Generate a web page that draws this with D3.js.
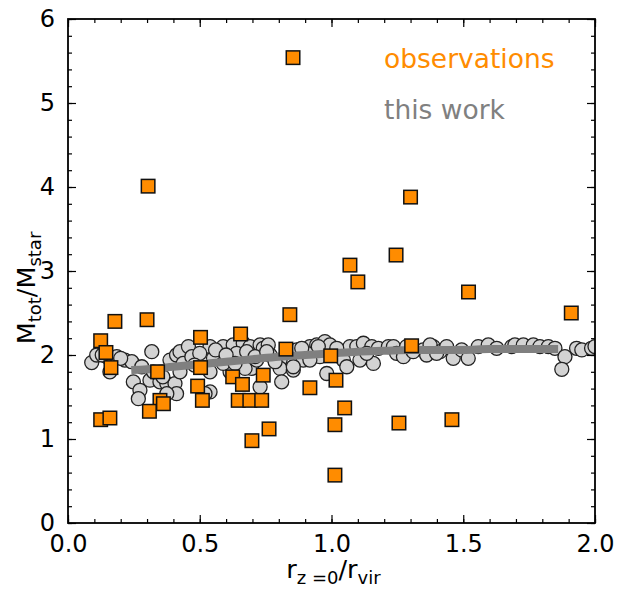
<!DOCTYPE html>
<html><head><meta charset="utf-8">
<script src="https://cdn.jsdelivr.net/npm/d3@7"></script>
<style>body{margin:0;background:#fff}svg{display:block}text{font-family:"DejaVu Sans",sans-serif}</style>
</head><body><svg id="c" width="618" height="592"></svg>
<script>
// ---- data ----
const xTicks = [0.0, 0.5, 1.0, 1.5, 2.0];
const yTicks = [0, 1, 2, 3, 4, 5, 6];
const legendLabels = ["observations", "this work"];

// simulated satellites ("this work"): [r/rvir, Mtot/Mstar]
const simX = [0.09,0.109,0.147,0.185,0.216,0.242,0.159,0.28,0.318,0.248,0.273,0.267,0.311,0.349,0.375,0.406,0.412,0.375,
  0.387,0.412,0.425,0.457,0.437,0.425,0.539,0.552,0.539,0.539,0.52,0.589,0.627,0.665,0.691,0.729,0.615,0.697,0.729,0.589,
  0.640,0.716,0.324,0.741,0.767,0.76,0.805,0.805,0.855,0.868,0.893,0.918,0.944,0.956,0.975,0.994,0.982,1.045,1.058,1.07,
  1.096,1.108,1.121,1.153,1.159,1.178,1.216,1.235,1.247,1.273,1.285,1.348,1.361,1.386,1.412,1.437,1.462,1.134,1.02,0.906,
  1.31,1.374,1.399,1.494,1.519,1.557,1.595,1.627,1.684,1.696,1.728,1.766,1.791,1.823,1.848,1.886,1.874,1.93,1.95,1.987,2.0,
  0.811,0.64,0.678,0.71,0.754,0.786,0.855,0.887,0.918,0.95,0.672,0.634,0.47,0.5,0.56,0.6,0.2,0.13,0.36,0.48];
const simY = [1.91,2.0,1.98,1.98,1.94,1.92,1.80,1.86,2.04,1.68,1.58,1.48,1.70,1.68,1.66,1.66,1.54,1.54,
  1.94,2.0,2.04,2.10,1.90,1.80,2.10,1.96,1.80,1.56,1.54,2.10,2.12,2.14,2.10,2.12,1.80,1.84,1.62,1.90,
  1.94,1.94,1.80,2.08,2.0,2.12,1.94,1.84,1.82,2.06,1.94,2.10,2.12,1.98,2.16,2.12,1.78,1.94,1.86,2.10,
  2.10,1.94,2.14,2.10,1.90,2.08,2.10,2.10,2.02,1.98,2.10,2.06,2.0,2.10,2.04,2.10,1.96,2.02,2.08,2.02,
  2.04,2.12,2.02,2.06,1.96,2.10,2.12,2.08,2.10,2.12,2.12,2.12,2.10,2.10,2.08,1.98,1.83,2.08,2.06,2.08,2.10,
  1.68,2.02,2.04,1.98,2.04,1.92,1.86,2.08,1.94,2.10,1.84,1.90,1.98,2.02,2.06,2.0,1.96,2.0,1.74,1.88];

// median trend ("this work")
const trendX = [0.24,0.3,0.4,0.5,0.6,0.7,0.8,0.9,1.0,1.1,1.2,1.3,1.4,1.5,1.6,1.7,1.86];
const trendY = [1.82,1.83,1.86,1.89,1.92,1.95,1.98,2.0,2.02,2.04,2.05,2.06,2.06,2.06,2.07,2.07,2.07];

// observations
const obsX = [0.854,0.304,1.30,1.07,1.245,1.10,1.52,1.91,0.178,0.30,0.842,0.124,0.655,0.503,1.304,0.144,0.827,0.997,
  0.163,0.503,0.34,0.625,0.741,0.662,0.492,0.918,1.017,0.349,0.362,0.309,0.51,0.646,0.69,0.735,1.05,0.124,0.159,
  1.256,1.457,1.013,0.763,0.698,1.013];
const obsY = [5.54,4.01,3.88,3.07,3.19,2.87,2.75,2.50,2.40,2.42,2.48,2.17,2.25,2.21,2.11,2.03,2.07,1.99,
  1.85,1.85,1.80,1.74,1.76,1.65,1.63,1.61,1.70,1.46,1.42,1.33,1.46,1.46,1.46,1.46,1.37,1.23,1.25,
  1.19,1.23,1.17,1.12,0.98,0.57];

// ---- chart ----
const svg = d3.select("#c");
const L = 68, R = 595, T = 19, B = 523;
const x = d3.scaleLinear().domain([0, 2]).range([L, R]);
const y = d3.scaleLinear().domain([0, 6]).range([B, T]);

const plot = svg.append("g");
svg.append("clipPath").attr("id","pc").append("rect")
  .attr("x", L).attr("y", T).attr("width", R-L).attr("height", B-T);
const inner = plot.append("g").attr("clip-path","url(#pc)");

// circles
inner.selectAll("circle.sim").data(d3.range(simX.length)).join("circle")
  .attr("cx", i => x(simX[i])).attr("cy", i => y(simY[i])).attr("r", 7)
  .attr("fill", "#d3d3d3").attr("stroke", "#222").attr("stroke-width", 1.3);

// trend
inner.append("path").datum(d3.range(trendX.length))
  .attr("d", d3.line().x(i => x(trendX[i])).y(i => y(trendY[i])).curve(d3.curveMonotoneX))
  .attr("fill","none").attr("stroke","#808080").attr("stroke-width",8);

// squares
const s = 13.5;
inner.selectAll("rect.obs").data(d3.range(obsX.length)).join("rect")
  .attr("x", i => x(obsX[i]) - s/2).attr("y", i => y(obsY[i]) - s/2)
  .attr("width", s).attr("height", s)
  .attr("fill", "#ff8c00").attr("stroke", "#111").attr("stroke-width", 1.5);

// axes (ticks inward on all sides)
const fs = 24;
function styleAxis(g){ g.select(".domain").remove(); g.selectAll("line").attr("stroke","#000").attr("stroke-width",1.2); }
const minorX = d3.range(0, 2.0001, 0.1), minorY = d3.range(0, 6.0001, 0.2);

const gxb = svg.append("g").attr("transform",`translate(0,${B})`)
  .call(d3.axisBottom(x).tickValues(xTicks).tickFormat(d3.format(".1f")).tickSizeInner(-8).tickPadding(12));
styleAxis(gxb); gxb.selectAll("text").attr("font-size",fs).attr("fill","#000").attr("font-family","DejaVu Sans");
const gxbm = svg.append("g").attr("transform",`translate(0,${B})`)
  .call(d3.axisBottom(x).tickValues(minorX).tickFormat("").tickSizeInner(-4)); styleAxis(gxbm);
const gxt = svg.append("g").attr("transform",`translate(0,${T})`)
  .call(d3.axisTop(x).tickValues(xTicks).tickFormat("").tickSizeInner(-8)); styleAxis(gxt);
const gxtm = svg.append("g").attr("transform",`translate(0,${T})`)
  .call(d3.axisTop(x).tickValues(minorX).tickFormat("").tickSizeInner(-4)); styleAxis(gxtm);

const gyl = svg.append("g").attr("transform",`translate(${L},0)`)
  .call(d3.axisLeft(y).tickValues(yTicks).tickFormat(d3.format("d")).tickSizeInner(-8).tickPadding(13));
styleAxis(gyl); gyl.selectAll("text").attr("font-size",fs).attr("fill","#000").attr("font-family","DejaVu Sans");
const gylm = svg.append("g").attr("transform",`translate(${L},0)`)
  .call(d3.axisLeft(y).tickValues(minorY).tickFormat("").tickSizeInner(-4)); styleAxis(gylm);
const gyr = svg.append("g").attr("transform",`translate(${R},0)`)
  .call(d3.axisRight(y).tickValues(yTicks).tickFormat("").tickSizeInner(-8)); styleAxis(gyr);
const gyrm = svg.append("g").attr("transform",`translate(${R},0)`)
  .call(d3.axisRight(y).tickValues(minorY).tickFormat("").tickSizeInner(-4)); styleAxis(gyrm);

// frame
svg.append("rect").attr("x",L).attr("y",T).attr("width",R-L).attr("height",B-T)
  .attr("fill","none").attr("stroke","#000").attr("stroke-width",1.8);

// axis labels
const LF = 25.5, SF = 18;
const xl = svg.append("text").attr("x", (L+R)/2 + 2).attr("y", 578).attr("text-anchor","middle").attr("font-size",LF).attr("fill","#000");
xl.append("tspan").text("r");
xl.append("tspan").attr("font-size",SF).attr("dy",6).text("z =0");
xl.append("tspan").attr("dy",-6).text("/r");
xl.append("tspan").attr("font-size",SF).attr("dy",6).text("vir");

const yl = svg.append("text").attr("transform",`translate(35,288) rotate(-90)`).attr("text-anchor","middle").attr("font-size",LF).attr("fill","#000");
yl.append("tspan").text("M");
yl.append("tspan").attr("font-size",SF).attr("dy",6).text("tot");
yl.append("tspan").attr("dy",-6).text("/M");
yl.append("tspan").attr("font-size",SF).attr("dy",6).text("star");

// legend texts
svg.append("text").attr("x",384).attr("y",68).attr("font-size",26.5).attr("fill","#ff8c00").text(legendLabels[0]);
svg.append("text").attr("x",384).attr("y",119).attr("font-size",26.5).attr("fill","#808080").text(legendLabels[1]);
</script></body></html>
